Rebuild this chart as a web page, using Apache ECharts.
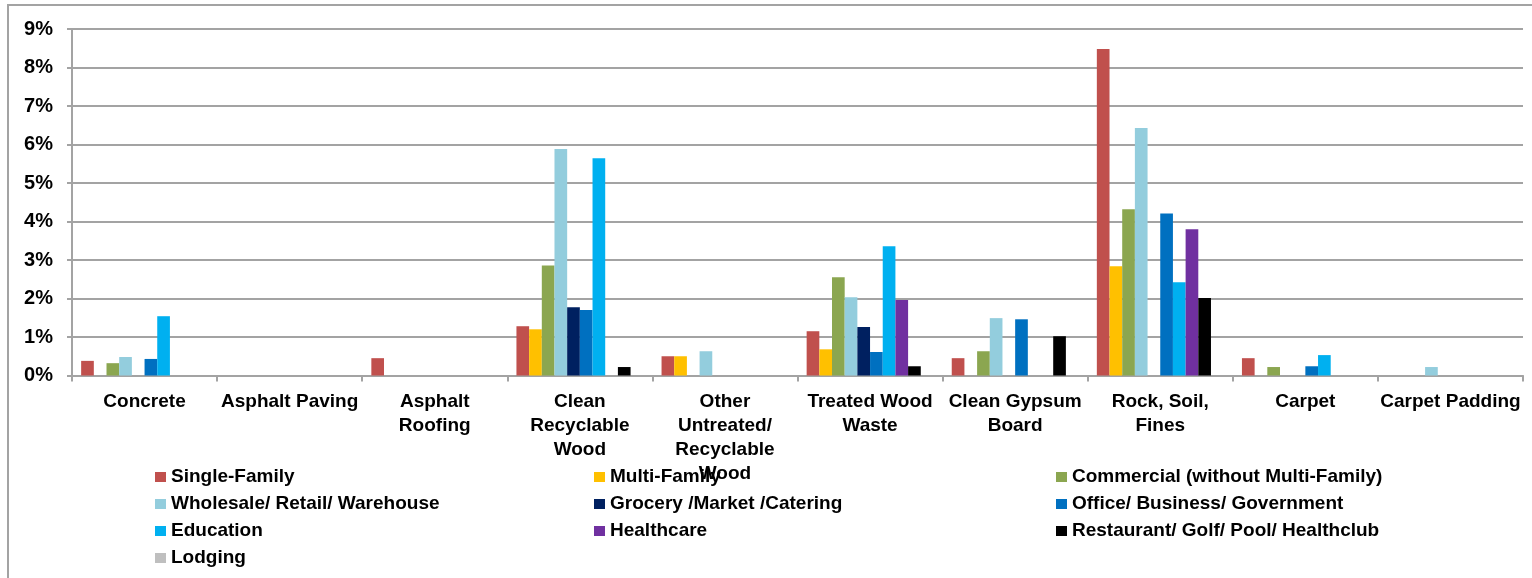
<!DOCTYPE html>
<html>
<head>
<meta charset="utf-8">
<script src="https://cdn.jsdelivr.net/npm/echarts@6/dist/echarts.min.js"></script>
<style>
html,body{margin:0;padding:0;background:#fff;}
#chart{width:1532px;height:578px;}
</style>
</head>
<body>
<div id="chart"></div>
<script>
const categories = ["Concrete","Asphalt Paving","Asphalt Roofing","Clean Recyclable Wood","Other Untreated/ Recyclable Wood","Treated Wood Waste","Clean Gypsum Board","Rock, Soil, Fines","Carpet","Carpet Padding"];
const tickLabels = ["Concrete","Asphalt Paving","Asphalt\nRoofing","Clean\nRecyclable\nWood","Other\nUntreated/\nRecyclable\nWood","Treated Wood\nWaste","Clean Gypsum\nBoard","Rock, Soil,\nFines","Carpet","Carpet Padding"];
const yTickLabels = ["0%","1%","2%","3%","4%","5%","6%","7%","8%","9%"];

const seriesNames = ["Single-Family","Multi-Family","Commercial (without Multi-Family)","Wholesale/ Retail/ Warehouse","Grocery /Market /Catering","Office/ Business/ Government","Education","Healthcare","Restaurant/ Golf/ Pool/ Healthclub","Lodging"];
const singleFamily = [0.38, 0, 0.45, 1.28, 0.50, 1.15, 0.45, 8.48, 0.45, 0];
const multiFamily  = [0, 0, 0, 1.20, 0.50, 0.68, 0, 2.84, 0, 0];
const commercial   = [0.32, 0, 0, 2.86, 0, 2.55, 0.63, 4.32, 0.22, 0];
const wholesale    = [0.48, 0, 0, 5.88, 0.63, 2.03, 1.49, 6.43, 0, 0.22];
const grocery      = [0, 0, 0, 1.77, 0, 1.26, 0, 0, 0, 0];
const office       = [0.43, 0, 0, 1.70, 0, 0.61, 1.46, 4.21, 0.24, 0];
const education    = [1.54, 0, 0, 5.64, 0, 3.36, 0, 2.42, 0.53, 0];
const healthcare   = [0, 0, 0, 0, 0, 1.96, 0, 3.80, 0, 0];
const restaurant   = [0, 0, 0, 0.22, 0, 0.24, 1.02, 2.01, 0, 0];
const lodging      = [0, 0, 0, 0, 0, 0, 0, 0, 0, 0];
const seriesData = [singleFamily, multiFamily, commercial, wholesale, grocery, office, education, healthcare, restaurant, lodging];
const colors = ["#C0504D","#FFC000","#8BA650","#93CDDD","#002060","#0070C0","#00B0F0","#7030A0","#000000","#BFBFBF"];

const FONT = '"Liberation Sans", Arial, sans-serif';
const gray = '#a3a3a3';

const chart = echarts.init(document.getElementById('chart'), null, {renderer:'canvas'});

const legendCommon = {
  orient: 'vertical',
  padding: 0,
  itemWidth: 11, itemHeight: 10, itemGap: 7,
  icon: 'rect',
  selectedMode: false,
  textStyle: {fontFamily: FONT, fontWeight: 'bold', fontSize: 19, color: '#000', lineHeight: 20, padding: [0,0,0,0]}
};

chart.setOption({
  animation: false,
  backgroundColor: '#fff',
  color: colors,
  grid: {left: 72, right: 9, top: 29, bottom: 202.5, containLabel: false},
  graphic: [{
    type: 'rect', z: -10, silent: true,
    shape: {x: 8, y: 5, width: 1600, height: 700},
    style: {fill: 'none', stroke: gray, lineWidth: 2}
  }],
  legend: [
    Object.assign({}, legendCommon, {left: 155, top: 467, data: [seriesNames[0], seriesNames[3], seriesNames[6], seriesNames[9]]}),
    Object.assign({}, legendCommon, {left: 594, top: 467, data: [seriesNames[1], seriesNames[4], seriesNames[7]]}),
    Object.assign({}, legendCommon, {left: 1056, top: 467, data: [seriesNames[2], seriesNames[5], seriesNames[8]]})
  ],
  xAxis: {
    type: 'category',
    data: categories,
    axisLine: {lineStyle: {color: gray, width: 2}},
    axisTick: {show: true, length: 6, lineStyle: {color: gray, width: 2}},
    axisLabel: {
      interval: 0, margin: 14,
      fontFamily: FONT, fontWeight: 'bold', fontSize: 19, color: '#000', lineHeight: 24,
      formatter: function (v, i) { return tickLabels[i]; }
    }
  },
  yAxis: {
    type: 'value', min: 0, max: 9, interval: 1,
    axisLine: {show: true, lineStyle: {color: gray, width: 2}},
    axisTick: {show: true, length: 5, lineStyle: {color: gray, width: 2}},
    splitLine: {lineStyle: {color: gray, width: 2}},
    axisLabel: {
      margin: 19, fontFamily: FONT, fontWeight: 'bold', fontSize: 20, color: '#000',
      formatter: function (v) { return yTickLabels[Math.round(v)]; }
    }
  },
  series: seriesNames.map(function (name, k) {
    return {
      name: name, type: 'bar',
      data: seriesData[k],
      barGap: '0%', barCategoryGap: '12.6%',
      itemStyle: {color: colors[k]}
    };
  })
});
</script>
</body>
</html>
